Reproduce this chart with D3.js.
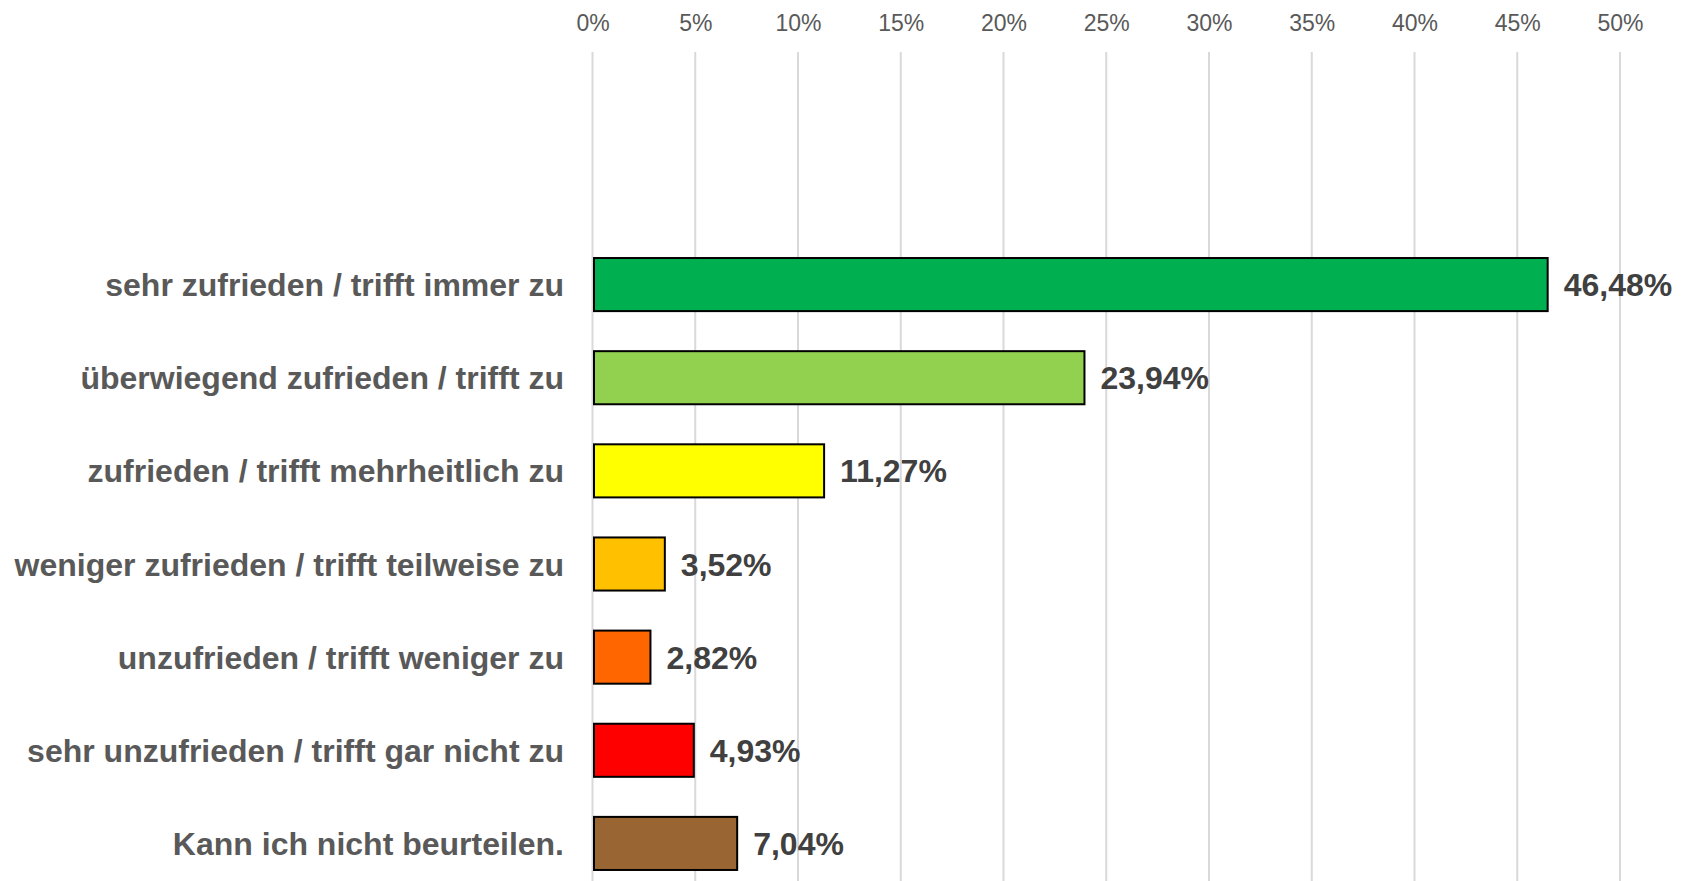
<!DOCTYPE html>
<html lang="de">

<head>
    <meta charset="utf-8">
    <style>
        body { margin: 0; background: #fff; }
        svg { display: block; font-family: "Liberation Sans", Arial, sans-serif; }
    </style>
</head>

<body>

    <script type='text/javascript' src='https://d3js.org/d3.v7.min.js'></script>

    <svg width="1692" height="881"></svg>

    <script>
        // data
        var categories = [
            "sehr zufrieden / trifft immer zu",
            "überwiegend zufrieden / trifft zu",
            "zufrieden / trifft mehrheitlich zu",
            "weniger zufrieden / trifft teilweise zu",
            "unzufrieden / trifft weniger zu",
            "sehr unzufrieden / trifft gar nicht zu",
            "Kann ich nicht beurteilen."
        ];
        var values = [46.48, 23.94, 11.27, 3.52, 2.82, 4.93, 7.04];
        var colors = ["#00B050", "#92D050", "#FFFF00", "#FFC000", "#FF6600", "#FF0000", "#996633"];
        var ticks = [0, 5, 10, 15, 20, 25, 30, 35, 40, 45, 50];

        var svg = d3.select("svg");

        var x = d3.scaleLinear().domain([0, 50]).range([592.5, 1620]);
        var y = d3.scaleBand().domain(categories).range([238, 890])
            .paddingInner(0.43).paddingOuter(0.215);

        // gridlines
        svg.append("g")
            .selectAll("line")
            .data(ticks)
            .enter().append("line")
            .attr("x1", function (d) { return x(d); })
            .attr("x2", function (d) { return x(d); })
            .attr("y1", 52)
            .attr("y2", 881)
            .attr("stroke", "#d9d9d9")
            .attr("stroke-width", 2);

        // top axis labels
        var axis = svg.append("g")
            .attr("transform", "translate(0,31)")
            .call(d3.axisTop(x).tickValues(ticks).tickSize(0).tickPadding(0)
                .tickFormat(function (d) { return d + "%"; }));
        axis.select(".domain").remove();
        axis.selectAll("text")
            .attr("font-family", "Liberation Sans, Arial, sans-serif")
            .attr("font-size", "23px")
            .attr("fill", "#595959")
            .attr("dy", 0);

        // bars
        svg.append("g")
            .selectAll("rect")
            .data(values)
            .enter().append("rect")
            .attr("x", x(0) + 1.5)
            .attr("y", function (d, i) { return y(categories[i]); })
            .attr("width", function (d) { return x(d) - x(0) - 1.5; })
            .attr("height", y.bandwidth())
            .attr("fill", function (d, i) { return colors[i]; })
            .attr("stroke", "#000")
            .attr("stroke-width", 2);

        // value labels
        svg.append("g")
            .selectAll("text")
            .data(values)
            .enter().append("text")
            .attr("x", function (d) { return x(d) + 16; })
            .attr("y", function (d, i) { return y(categories[i]) + y.bandwidth() / 2; })
            .attr("dy", "0.36em")
            .attr("font-size", "32px")
            .attr("font-weight", "bold")
            .attr("fill", "#404040")
            .text(function (d) { return d.toFixed(2).replace(".", ",") + "%"; });

        // category labels
        svg.append("g")
            .selectAll("text")
            .data(categories)
            .enter().append("text")
            .attr("x", 564)
            .attr("y", function (d) { return y(d) + y.bandwidth() / 2; })
            .attr("dy", "0.36em")
            .attr("text-anchor", "end")
            .attr("font-size", "32px")
            .attr("font-weight", "bold")
            .attr("fill", "#595959")
            .text(function (d) { return d; });
    </script>
</body>

</html>
